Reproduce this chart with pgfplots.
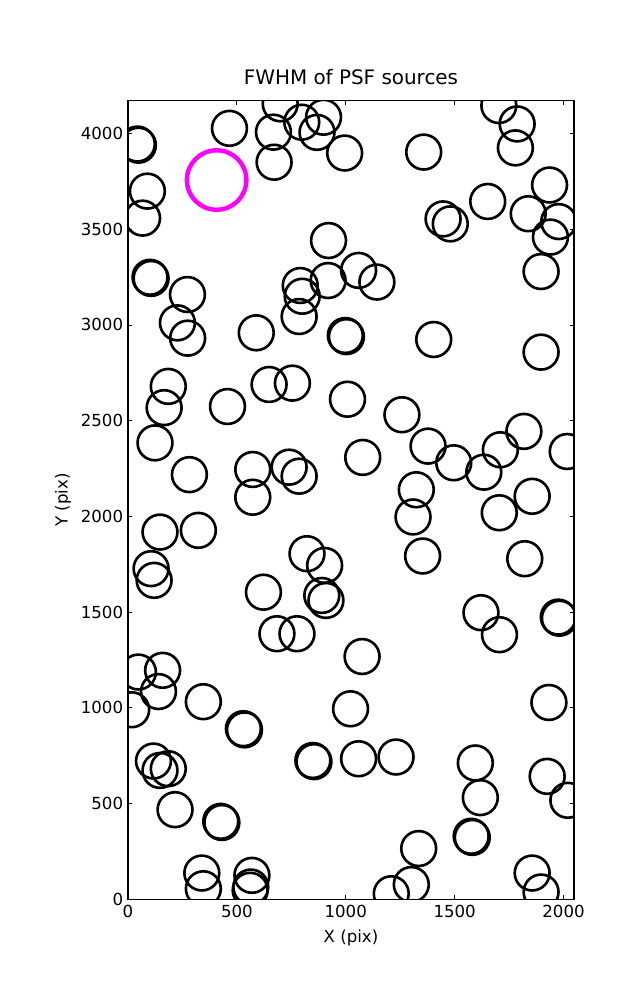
\documentclass[border=0pt]{standalone}
\usepackage{pgfplots}
\pgfplotsset{compat=1.18}
\usepackage{fontspec}
\setmainfont{DejaVu Sans}
\begin{document}
\begin{tikzpicture}
\path[use as bounding box] (0,0) rectangle (460.36pt,722.7pt);
\begin{axis}[
  at={(92.5pt,72.8pt)}, anchor=south west,
  scale only axis, width=322.3pt, height=577.2pt,
  xmin=0, xmax=2048, ymin=0, ymax=4172,
  xtick={0,500,1000,1500,2000}, ytick={0,500,1000,1500,2000,2500,3000,3500,4000},
  tick align=inside, major tick length=3.2pt,
  tick style={black, line width=0.6pt},
  axis line style={line width=0.8pt},
  /pgf/number format/1000 sep={},
  /pgf/number format/assume math mode=true,
  ticklabel style={font=\fontsize{12}{14}\selectfont},
  xticklabel style={yshift=-1pt},
  title={FWHM of PSF sources},
  title style={font=\fontsize{14.4}{17}\selectfont, at={(axis description cs:0.5,1)}, anchor=base, yshift=5.6pt},
  xlabel={X (pix)},
  ylabel={Y (pix)},
  xlabel style={font=\fontsize{12}{14}\selectfont, at={(axis description cs:0.5,0)}, anchor=center, yshift=-28pt},
  ylabel style={font=\fontsize{12}{14}\selectfont, at={(axis description cs:0,0.5)}, anchor=center, rotate=0, yshift=47pt},
  clip marker paths=true,
]
\addplot[only marks, mark=o, mark size=12.6pt, mark options={black, line width=1.9pt}] coordinates {
(43,3945) (466,4027) (89,3699) (67,3558) (699,4155) (668,4007) (671,3850)
(798,4059) (868,4006) (898,4085) (995,3898) (921,3441) (101,3249) (273,3159)
(791,3206) (800,3150) (919,3232) (1358,3903) (1703,4146) (1787,4050) (1779,3925)
(1936,3731) (1652,3645) (1838,3581) (1978,3540) (1940,3459) (1897,3279) (1447,3554)
(1480,3528) (1059,3285) (1143,3224) (227,3011) (274,2931) (589,2959) (786,3044)
(998,2945) (185,2679) (166,2568) (457,2574) (648,2689) (755,2696) (1008,2612)
(124,2384) (282,2218) (573,2245) (573,2100) (740,2257) (786,2210) (1078,2308)
(1404,2924) (1897,2858) (1258,2531) (1378,2367) (1496,2280) (1710,2348) (1818,2444)
(1634,2231) (2017,2339) (1324,2139) (1856,2105) (1309,1997) (1705,2019) (147,1918)
(323,1927) (106,1727) (120,1666) (622,1604) (822,1805) (903,1744) (890,1587)
(909,1561) (684,1387) (776,1387) (48,1187) (159,1196) (140,1085) (346,1032)
(1075,1268) (1022,995) (1353,1793) (1822,1779) (1621,1497) (1706,1382) (1976,1474)
(1933,1028) (17,990) (530,891) (849,725) (1059,734) (117,722) (147,673)
(185,682) (216,468) (426,407) (339,137) (346,55) (569,125) (564,64) (561,47)
(1231,743) (1595,712) (1618,531) (1576,329) (1925,642) (2020,517) (1335,265)
(1301,77) (1209,29) (1856,137) (1897,38)
(48,3939) (106,3243) (1003,2939) (854,719) (535,885) (431,401) (1581,323) (1981,1468)
};
\addplot[only marks, mark=o, mark size=21.5pt, mark options={draw={rgb,1:red,1;green,0;blue,1}, line width=3.2pt}] coordinates {(407,3757)};
\end{axis}
\end{tikzpicture}
\end{document}
